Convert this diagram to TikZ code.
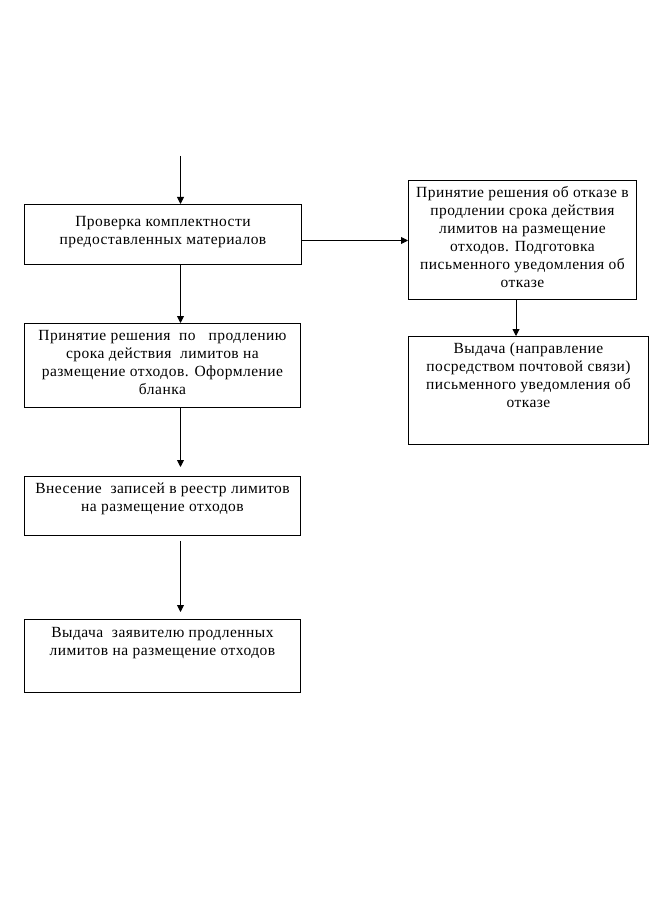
\documentclass[tikz,border=0pt]{standalone}
\usepackage{fontspec}
\setmainfont{Liberation Serif}[LetterSpace=3]
\usetikzlibrary{arrows.meta,calc}
\begin{document}
\begin{tikzpicture}[x=1pt,y=-1pt,
  box/.style={draw,line width=0.9pt,rectangle,inner sep=0pt,anchor=north west},
  txt/.style={align=center,anchor=north,inner sep=0pt,font=\fontsize{15.5}{18}\selectfont},
  arr/.style={line width=0.9pt,-{Triangle[length=7pt,width=7pt]}}]
\useasboundingbox (0,0) rectangle (649,901);
% left column
\node[box,minimum width=277pt,minimum height=60pt] (b1) at (24,204) {};
\node[txt] (b1t) at ([yshift=-12pt]b1.north) {Проверка комплектности\\предоставленных материалов};
\node[box,minimum width=276pt,minimum height=84pt] (b2) at (24,323) {};
\node[txt] (b2t) at ([yshift=-7pt]b2.north) {Принятие решения \ по \ \ продлению\\срока действия \ лимитов на\\размещение отходов. Оформление\\бланка};
\node[box,minimum width=276pt,minimum height=59pt] (b3) at (24,476) {};
\node[txt] (b3t) at ([yshift=-7pt]b3.north) {Внесение \ записей в реестр лимитов\\на размещение отходов};
\node[box,minimum width=276pt,minimum height=73pt] (b4) at (24,619) {};
\node[txt] (b4t) at ([yshift=-8pt]b4.north) {Выдача \ заявителю продленных\\лимитов на размещение отходов};
% right column
\node[box,minimum width=228pt,minimum height=119pt] (r1) at (408,180) {};
\node[txt] (r1t) at ([yshift=-6pt]r1.north) {Принятие решения об отказе в\\продлении срока действия\\лимитов на размещение\\отходов. Подготовка\\письменного уведомления об\\отказе};
\node[box,minimum width=240pt,minimum height=108pt] (r2) at (408,336) {};
\node[txt] (r2t) at ([yshift=-7pt]r2.north) {Выдача (направление\\посредством почтовой связи)\\письменного уведомления об\\отказе};
% connectors
\coordinate (in) at (180.5,156);
\draw[arr] (in) -- (in |- b1.north);
\draw[arr] (in |- b1.south) -- (in |- b2.north);
\draw[arr,shorten >=9pt] (in |- b2.south) -- (in |- b3.north);
\draw[arr,shorten <=5pt,shorten >=7pt] (in |- b3.south) -- (in |- b4.north);
\coordinate (h) at (0,240.5);
\draw[arr] (h -| b1.east) -- (h -| r1.west);
\coordinate (v) at (516,0);
\draw[arr] (v |- r1.south) -- (v |- r2.north);
\end{tikzpicture}
\end{document}
